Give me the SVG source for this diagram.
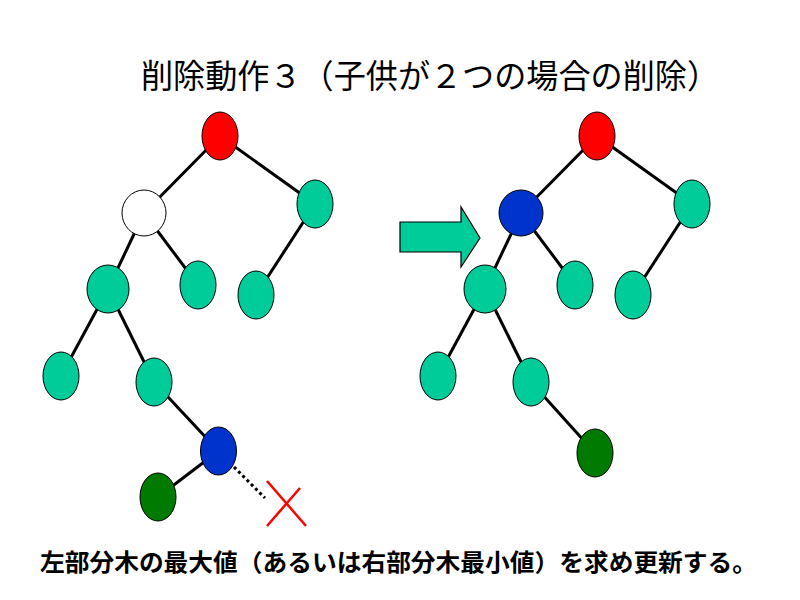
<svg xmlns="http://www.w3.org/2000/svg" width="800" height="600" viewBox="0 0 800 600">
<style>
.e{stroke:#000;stroke-width:3;fill:none}
.n{stroke:#000;stroke-width:1}
.t{fill:#00CC99}.r{fill:#FF0000}.b{fill:#0033CC}.g{fill:#007A00}.w{fill:#FFFFFF}
text{font-family:"Noto Sans CJK JP","Noto Sans CJK SC",sans-serif;fill:#000}
</style>
<rect width="800" height="600" fill="#fff"/>
<text x="141" y="88" font-size="33" textLength="578" lengthAdjust="spacingAndGlyphs">削除動作３（子供が２つの場合の削除）</text>
<g id="connectors">
<line class="e" x1="220" y1="136" x2="144" y2="213"/>
<line class="e" x1="220" y1="136" x2="315" y2="204"/>
<line class="e" x1="144" y1="213" x2="108" y2="289"/>
<line class="e" x1="144" y1="213" x2="198" y2="285"/>
<line class="e" x1="315" y1="204" x2="256" y2="295"/>
<line class="e" x1="108" y1="289" x2="61" y2="376"/>
<line class="e" x1="108" y1="289" x2="154" y2="382"/>
<line class="e" x1="154" y1="382" x2="218.5" y2="451"/>
<line class="e" x1="218.5" y1="451" x2="158" y2="497"/>
<line x1="234" y1="467" x2="265" y2="498" stroke="#000" stroke-width="3" stroke-dasharray="3 3"/>
<line class="e" x1="597" y1="136" x2="521" y2="213"/>
<line class="e" x1="597" y1="136" x2="692" y2="204"/>
<line class="e" x1="521" y1="213" x2="485" y2="289"/>
<line class="e" x1="521" y1="213" x2="575" y2="285"/>
<line class="e" x1="692" y1="204" x2="633" y2="295"/>
<line class="e" x1="485" y1="289" x2="438" y2="376"/>
<line class="e" x1="485" y1="289" x2="531" y2="382"/>
<line class="e" x1="531" y1="382" x2="595" y2="453"/>
</g>
<g id="L_root"><ellipse class="n r" cx="220" cy="136" rx="18" ry="24"/></g>
<g id="L_del"><ellipse class="n w" cx="144" cy="213" rx="22" ry="23"/></g>
<g id="L_R"><ellipse class="n t" cx="315" cy="204" rx="18" ry="24"/></g>
<g id="L_LL"><ellipse class="n t" cx="108" cy="289" rx="21" ry="24"/></g>
<g id="L_LR"><ellipse class="n t" cx="198" cy="285" rx="18" ry="24"/></g>
<g id="L_RL"><ellipse class="n t" cx="256" cy="295" rx="18" ry="24"/></g>
<g id="L_LLL"><ellipse class="n t" cx="61" cy="376" rx="18" ry="24"/></g>
<g id="L_LLR"><ellipse class="n t" cx="154" cy="382" rx="18" ry="24"/></g>
<g id="L_max"><ellipse class="n b" cx="218.5" cy="451" rx="18" ry="24"/></g>
<g id="L_maxL"><ellipse class="n g" cx="158" cy="497" rx="18" ry="24"/></g>
<g id="X"><line x1="267" y1="481" x2="306" y2="526" stroke="#FF0000" stroke-width="2.5"/><line x1="300" y1="488" x2="267" y2="526" stroke="#FF0000" stroke-width="2.5"/></g>
<g id="arrow"><polygon points="400,222 461,222 461,207 480,238 461,267 461,252 400,252" fill="#00CC99" stroke="#000" stroke-width="1.2"/></g>
<g id="R_root"><ellipse class="n r" cx="597" cy="136" rx="18" ry="24"/></g>
<g id="R_new"><ellipse class="n b" cx="521" cy="213" rx="22" ry="23"/></g>
<g id="R_R"><ellipse class="n t" cx="692" cy="204" rx="18" ry="24"/></g>
<g id="R_LL"><ellipse class="n t" cx="485" cy="289" rx="21" ry="24"/></g>
<g id="R_LR"><ellipse class="n t" cx="575" cy="285" rx="18" ry="24"/></g>
<g id="R_RL"><ellipse class="n t" cx="633" cy="295" rx="18" ry="24"/></g>
<g id="R_LLL"><ellipse class="n t" cx="438" cy="376" rx="18" ry="24"/></g>
<g id="R_LLR"><ellipse class="n t" cx="531" cy="382" rx="18" ry="24"/></g>
<g id="R_g"><ellipse class="n g" cx="595" cy="453" rx="18" ry="24"/></g>
<text x="40" y="571" font-size="24" font-weight="bold" textLength="717" lengthAdjust="spacingAndGlyphs">左部分木の最大値（あるいは右部分木最小値）を求め更新する。</text>
</svg>
